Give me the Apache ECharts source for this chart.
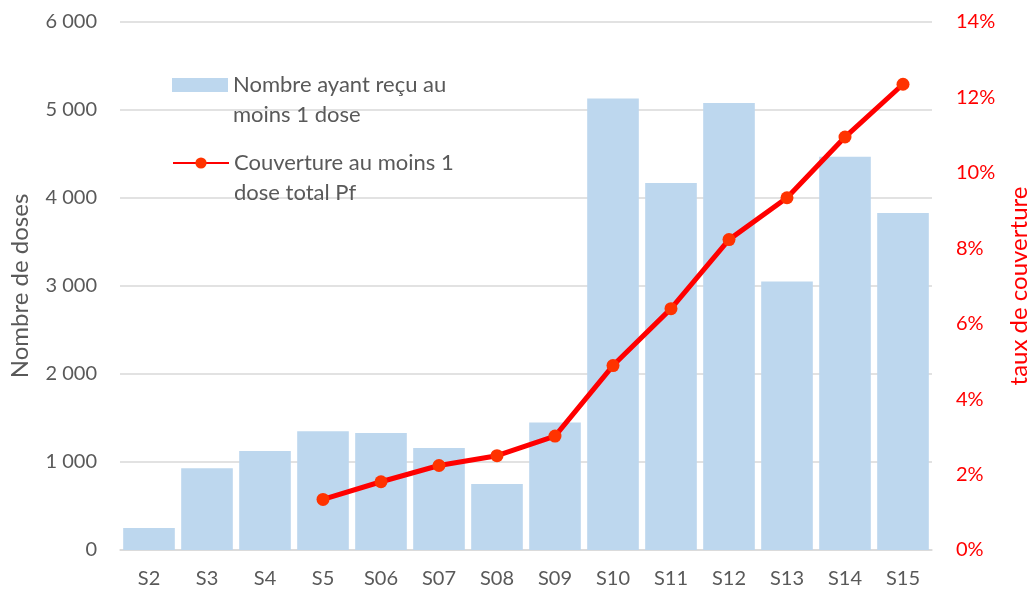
<!DOCTYPE html>
<html>
<head>
<meta charset="utf-8">
<script src="https://cdn.jsdelivr.net/npm/echarts@6/dist/echarts.min.js"></script>
<style>
  html, body { margin: 0; padding: 0; background: #fff; }
  #chart { width: 1031px; height: 591px; }
</style>
</head>
<body>
<div id="chart"></div>
<script>
// semaines
const categories = ['S2', 'S3', 'S4', 'S5', 'S06', 'S07', 'S08', 'S09', 'S10', 'S11', 'S12', 'S13', 'S14', 'S15']
// nombre ayant reçu au moins 1 dose
const doses = [250, 930, 1125, 1350, 1330, 1160, 750, 1450, 5130, 4170, 5080, 3050, 4470, 3830]
// couverture (%), pas de valeur avant S5
const couverture = [null, null, null, 1.34, 1.81, 2.24, 2.5, 3.02, 4.89, 6.4, 8.23, 9.34, 10.95, 12.35]

const NAME_BAR = 'Nombre ayant reçu au\nmoins 1 dose'
const NAME_LINE = 'Couverture au moins 1\ndose total Pf'

const FONT = 'Lato'
const GREY = '#595959'
const RED = '#ff0000'

const chart = echarts.init(document.getElementById('chart'))

// 6000 -> "6 000"
function fmtThousands(v) {
  return String(v).replace(/\B(?=(\d{3})+(?!\d))/g, ' ')
}

// legende : icone alignee sur la 1re ligne (ligne vide devant)
function makeLegend(name, top, icon) {
  return {
    orient: 'vertical',
    left: 172,
    top: top,
    padding: 0,
    itemWidth: 56,
    itemHeight: 14,
    selectedMode: false,
    formatter: n => '\n' + n,
    textStyle: {
      color: GREY,
      fontSize: 22,
      fontFamily: FONT,
      lineHeight: 30,
    },
    data: [icon ? { name: name, icon: icon } : { name: name }],
  }
}

const options = {
  backgroundColor: '#fff',
  animation: false,
  textStyle: { fontFamily: FONT },
  grid: {
    left: 120,
    right: 99,
    top: 22,
    bottom: 41,
    containLabel: false,
    outerBoundsMode: 'none',
  },
  legend: [
    makeLegend(NAME_BAR, 40, 'rect'),
    makeLegend(NAME_LINE, 118),
  ],
  xAxis: {
    type: 'category',
    data: categories,
    axisTick: { show: false },
    axisLine: {
      show: true,
      lineStyle: { color: '#d9d9d9', width: 1.5 },
    },
    axisLabel: {
      color: GREY,
      fontSize: 20,
      fontFamily: FONT,
      margin: 19,
    },
  },
  yAxis: [
    {
      type: 'value',
      min: 0,
      max: 6000,
      interval: 1000,
      name: 'Nombre de doses',
      nameLocation: 'middle',
      nameRotate: 90,
      nameGap: 88,
      nameTextStyle: { color: GREY, fontSize: 24, fontFamily: FONT },
      axisLine: { show: false },
      axisTick: { show: false },
      splitLine: { show: true, lineStyle: { color: '#d9d9d9', width: 1.5 } },
      axisLabel: {
        color: GREY,
        fontSize: 20,
        fontFamily: FONT,
        margin: 23,
        formatter: fmtThousands,
      },
    },
    {
      type: 'value',
      min: 0,
      max: 14,
      interval: 2,
      position: 'right',
      name: 'taux de couverture',
      nameLocation: 'middle',
      nameRotate: 90,
      nameGap: 75,
      nameTextStyle: { color: RED, fontSize: 24, fontFamily: FONT },
      axisLine: { show: false },
      axisTick: { show: false },
      splitLine: { show: false },
      axisLabel: {
        color: RED,
        fontSize: 20,
        fontFamily: FONT,
        margin: 24,
        formatter: '{value}%',
      },
    },
  ],
  series: [
    {
      name: NAME_BAR,
      type: 'bar',
      yAxisIndex: 0,
      data: doses,
      barCategoryGap: '11%',
      itemStyle: { color: '#bdd7ee' },
    },
    {
      name: NAME_LINE,
      type: 'line',
      yAxisIndex: 1,
      data: couverture,
      symbol: 'circle',
      symbolSize: 13,
      lineStyle: { color: RED, width: 5 },
      itemStyle: { color: '#ff3300' },
    },
  ],
}

chart.setOption(options)
</script>
</body>
</html>
